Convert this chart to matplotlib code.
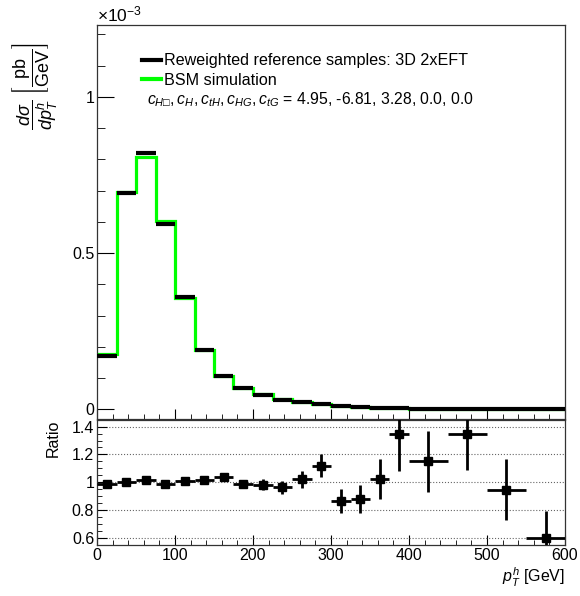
import matplotlib
matplotlib.use("Agg")
import matplotlib.pyplot as plt
import numpy as np
from matplotlib.ticker import MultipleLocator, FormatStrFormatter

plt.rcParams['font.family'] = ['Liberation Sans', 'DejaVu Sans']
plt.rcParams['mathtext.fontset'] = 'custom'
plt.rcParams['mathtext.rm'] = 'Liberation Sans'
plt.rcParams['mathtext.it'] = 'Liberation Sans:italic'
plt.rcParams['mathtext.fallback'] = 'stixsans'

# bin edges in GeV
edges = [0, 25, 50, 75, 100, 125, 150, 175, 200, 225, 250, 275, 300,
         325, 350, 375, 400, 450, 500, 550, 600]

# dsigma/dpT in units of 1e-3 pb/GeV
ref_vals = [0.170, 0.692, 0.821, 0.594, 0.358, 0.191, 0.108, 0.069, 0.047,
            0.031, 0.024, 0.018, 0.0105, 0.0073, 0.0045, 0.0035, 0.0022,
            0.0013, 0.0008, 0.0003]
bsm_vals = [0.176, 0.694, 0.809, 0.604, 0.357, 0.190, 0.107, 0.068, 0.048,
            0.032, 0.023, 0.016, 0.0115, 0.0080, 0.0045, 0.0027, 0.0020,
            0.0010, 0.0009, 0.0005]

# ratio panel
ratio = [0.986, 0.998, 1.017, 0.990, 1.010, 1.014, 1.040, 0.986, 0.981, 0.962,
         1.021, 1.117, 0.865, 0.880, 1.022, 1.346, 1.149, 1.350, 0.945, 0.600]
ratio_err = [0.012, 0.012, 0.012, 0.012, 0.013, 0.015, 0.028, 0.027, 0.040, 0.045,
             0.062, 0.083, 0.085, 0.100, 0.145, 0.264, 0.220, 0.260, 0.220, 0.190]

edges = np.array(edges)
centers = 0.5 * (edges[:-1] + edges[1:])
half_w = 0.5 * (edges[1:] - edges[:-1])

W, H = 580, 596
fig = plt.figure(figsize=(W / 100, H / 100), dpi=100)
ax1 = fig.add_axes([97 / W, 1 - 419 / H, 468 / W, 394 / H])
ax2 = fig.add_axes([97 / W, 1 - 545 / H, 468 / W, 125 / H])

# top panel
ax1.stairs(bsm_vals, edges, color='#00ff00', lw=2.3, baseline=None, zorder=2)
ax1.hlines(ref_vals, edges[:-1], edges[1:], color='black', lw=3, zorder=3)
ax1.set_xlim(0, 600)
ax1.set_ylim(-0.031, 1.23)
ax1.yaxis.set_major_locator(MultipleLocator(0.5))
ax1.yaxis.set_minor_locator(MultipleLocator(0.1))
ax1.yaxis.set_major_formatter(FormatStrFormatter('%g'))
ax1.xaxis.set_major_locator(MultipleLocator(100))
ax1.xaxis.set_minor_locator(MultipleLocator(20))
ax1.tick_params(axis='x', which='both', direction='in', labelbottom=False)
ax1.tick_params(axis='x', which='major', length=7)
ax1.tick_params(axis='x', which='minor', length=3.5)
ax1.tick_params(axis='y', which='major', direction='in', length=12, labelsize=11.5, pad=2)
ax1.tick_params(axis='y', which='minor', direction='in', length=6)

ax1.plot([], [], color='black', lw=3, label='Reweighted reference samples: 3D 2xEFT')
ax1.plot([], [], color='#00ff00', lw=3, label='BSM simulation')
ax1.legend(loc='upper left', bbox_to_anchor=(0.096, 0.928), frameon=False,
           fontsize=11.6, handlelength=1.2, handletextpad=0.2, borderpad=0,
           borderaxespad=0, labelspacing=0.28)
ax1.text(0.107, 0.81,
         r'$c_{H□},c_{H},c_{tH},c_{HG},c_{tG}$ = 4.95, -6.81, 3.28, 0.0, 0.0',
         transform=ax1.transAxes, fontsize=11.3, va='center', ha='left')

fig.text(97 / W, 1 - 14 / H, r'$\times$10$^{-3}$', fontsize=12.5, ha='left', va='center')
fig.text(35 / W, 1 - 86 / H,
         r'$\dfrac{d\sigma}{dp_{T}^{h}}$ $\left[\dfrac{\mathrm{pb}}{\mathrm{GeV}}\right]$',
         rotation=90, fontsize=13, ha='center', va='center')

# ratio panel
ax2.errorbar(centers, ratio, xerr=half_w, yerr=ratio_err, fmt='s', ms=5.5,
             color='black', ecolor='black', elinewidth=2, capsize=0, zorder=3)
ax2.set_xlim(0, 600)
ax2.set_ylim(0.547, 1.448)
ax2.yaxis.set_major_locator(MultipleLocator(0.2))
ax2.yaxis.set_minor_locator(MultipleLocator(0.05))
ax2.yaxis.set_major_formatter(FormatStrFormatter('%g'))
ax2.xaxis.set_major_locator(MultipleLocator(100))
ax2.xaxis.set_minor_locator(MultipleLocator(20))
ax2.yaxis.grid(True, which='major', ls=':', color='#666666', lw=0.8)
ax2.tick_params(axis='both', which='major', direction='in', length=7, labelsize=11.5, pad=2)
ax2.tick_params(axis='both', which='minor', direction='in', length=3.5)

fig.text(53 / W, 1 - 438 / H, 'Ratio', rotation=90, fontsize=11.5, ha='center', va='center')
fig.text(565 / W, 1 - 577 / H, r'$p_{T}^{h}$ [GeV]', fontsize=11.5, ha='right', va='center')

for ax in (ax1, ax2):
    for s in ax.spines.values():
        s.set_linewidth(0.9)
        s.set_color('#333333')

fig.savefig('out.png', dpi=100)
